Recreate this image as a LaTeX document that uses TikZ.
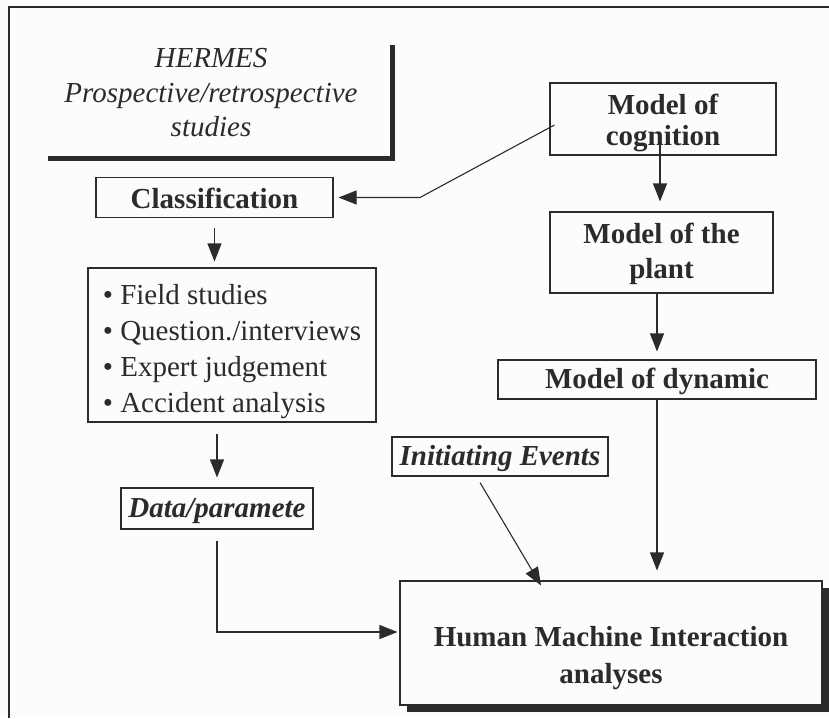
\documentclass[tikz,border=0pt]{standalone}
\usepackage{fontspec}
\setmainfont{Liberation Serif}
\usetikzlibrary{arrows.meta,calc,shadows}
\definecolor{ink}{HTML}{2B2B2B}
\definecolor{paper}{HTML}{FCFCFC}
% invisible strut that lowers a centred text block
\newcommand{\lowerby}[1]{\rule{0pt}{\dimexpr 20pt+2\dimexpr #1\relax\relax}}

\begin{document}
\begin{tikzpicture}[x=1pt,y=-1pt,
  box/.style={draw=ink, line width=1.1pt, text=ink, align=center, inner sep=0pt, fill=paper},
  bold/.style={font=\fontsize{29}{32}\selectfont\bfseries},
  bolditalic/.style={font=\fontsize{29}{32}\selectfont\bfseries\itshape},
  conn/.style={draw=ink, line width=1.1pt, -{Triangle[length=18pt,width=14pt]}},
]
% page and outer frame
\fill[paper] (0,0) rectangle (829,718);
\useasboundingbox (0,0) rectangle (829,718);
\draw[ink, line width=1.4pt] (829,7) -- (9,7) -- (9,718);

% title block with its heavy corner rule
\node[text=ink, align=center, font=\fontsize{29}{34.5}\selectfont\itshape] (hermes) at (211,93)
  {HERMES\\Prospective/retrospective\\studies};
\draw[ink, line width=5pt] (48,158.5) -- (392,158.5) -- (392,45);

% boxes
\node[box, bold, minimum width=237, minimum height=40] (class) at (214.5,197.5) {\lowerby{1pt}Classification};
\node[box, minimum width=226, minimum height=72, font=\fontsize{29}{31}\selectfont\bfseries] (cog) at (663,119) {\lowerby{4pt}Model of\\cognition};
\node[box, minimum width=223, minimum height=81, font=\fontsize{29}{35}\selectfont\bfseries] (plant) at (661.5,252.5) {\lowerby{2pt}Model of the\\plant};
\node[box, bold, minimum width=318, minimum height=39] (dyn) at (657,379.5) {\lowerby{2.5pt}Model of dynamic};
\node[box, align=left, minimum width=288, minimum height=154, font=\fontsize{29}{36}\selectfont] (list) at (232,345)
  {\lowerby{7pt}\textbullet\ Field studies\\\textbullet\ Question./interviews\\\textbullet\ Expert judgement\\\textbullet\ Accident analysis};
\node[box, bolditalic, minimum width=192, minimum height=41] (data) at (217,508.5) {\lowerby{2.5pt}Data/paramete};
\node[box, bolditalic, minimum width=216, minimum height=39] (init) at (500,456.5) {\lowerby{2pt}Initiating Events};
\node[box, minimum width=422, minimum height=124, font=\fontsize{29}{37}\selectfont\bfseries,
  general shadow={shadow xshift=7pt, shadow yshift=-7pt, fill=ink}] (hmi) at (611,643)
  {\lowerby{15pt}Human Machine Interaction\\analyses};

% connector end points
\coordinate (cogout) at ($(cog.west)+(5,6)$);
\coordinate (bend) at (420,197.5);
\coordinate (hmiin) at ($(hmi.west)+(0,-11)$);
\coordinate (iefrom) at ($(init.south)+(-20,6)$);
\coordinate (ieto) at ($(hmi.north)+(-70,5)$);

% connectors
\draw[conn, shorten >=5pt] (cogout) -- (bend) -- (class.east);
\draw[conn, shorten <=10pt, shorten >=6pt] (class.south) -- (class.south |- list.north);
\draw[conn, shorten <=-12pt, shorten >=10pt] ([xshift=-3pt]cog.south) -- ([xshift=-3pt]cog.south |- plant.north);
\draw[conn, shorten >=8pt] (dyn.north |- plant.south) -- (dyn.north);
\draw[conn, shorten >=10pt] (dyn.south) -- (dyn.south |- hmi.north);
\draw[conn, shorten <=11pt, shorten >=10pt] (data.north |- list.south) -- (data.north);
\draw[conn, shorten <=11pt, shorten >=2pt] (data.south) |- (hmiin);
\draw[conn] (iefrom) -- (ieto);
\end{tikzpicture}
\end{document}
